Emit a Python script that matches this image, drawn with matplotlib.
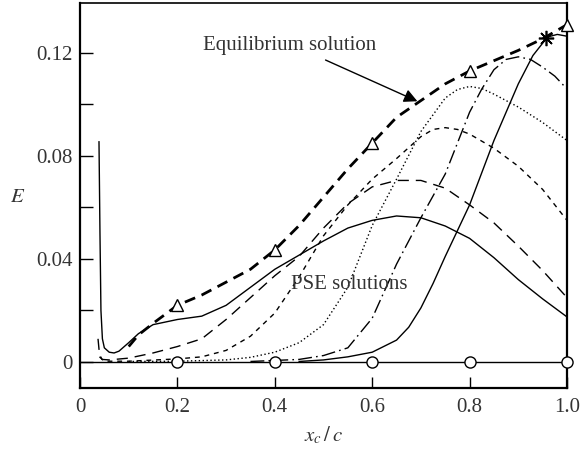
import numpy as np
import matplotlib
matplotlib.use("Agg")
import matplotlib.pyplot as plt
from matplotlib.ticker import MultipleLocator

plt.rcParams['font.family'] = ['Liberation Serif', 'DejaVu Serif']
plt.rcParams['mathtext.fontset'] = 'stix'
plt.rcParams['font.size'] = 15

# equilibrium solution (thick dashed)
eq_x = [0.10, 0.12, 0.15, 0.20, 0.25, 0.30, 0.35, 0.40, 0.45, 0.50, 0.55, 0.60,
        0.65, 0.70, 0.75, 0.80, 0.85, 0.90, 0.95, 1.00]
eq_y = [0.006, 0.0105, 0.015, 0.022, 0.026, 0.031, 0.036, 0.0435, 0.053, 0.064, 0.075, 0.085,
        0.095, 0.1015, 0.108, 0.113, 0.117, 0.121, 0.1255, 0.131]

# triangle / circle stations
sta_x = [0.2, 0.4, 0.6, 0.8, 1.0]
tri_y = [0.022, 0.0435, 0.085, 0.113, 0.131]
circ_y = [0, 0, 0, 0, 0]
star_x, star_y = [0.957], [0.126]

# PSE solutions
p1_x = [0.039, 0.041, 0.043, 0.046, 0.05, 0.06, 0.07, 0.08, 0.10, 0.12, 0.15, 0.20, 0.25, 0.30,
        0.35, 0.40, 0.45, 0.50, 0.55, 0.60, 0.65, 0.70, 0.75, 0.80, 0.85, 0.90, 0.95, 1.00]
p1_y = [0.0855, 0.05, 0.02, 0.009, 0.0055, 0.0038, 0.0035, 0.0042, 0.0075, 0.011, 0.0145, 0.0165,
        0.0178, 0.022, 0.029, 0.036, 0.0415, 0.047, 0.052, 0.055, 0.0567, 0.056, 0.0528, 0.048,
        0.0405, 0.032, 0.0245, 0.0175]

p2_x = [0.037, 0.04, 0.045, 0.06, 0.10, 0.15, 0.20, 0.25, 0.30, 0.35, 0.40, 0.45, 0.50, 0.55,
        0.60, 0.65, 0.70, 0.75, 0.80, 0.85, 0.90, 0.95, 1.00]
p2_y = [0.009, 0.003, 0.001, 0.0008, 0.0015, 0.0035, 0.006, 0.009, 0.0165, 0.025, 0.0335, 0.041,
        0.052, 0.0615, 0.068, 0.0705, 0.0705, 0.0675, 0.061, 0.054, 0.045, 0.0355, 0.025]

p3_x = [0.04, 0.05, 0.10, 0.20, 0.25, 0.30, 0.35, 0.40, 0.45, 0.50, 0.55, 0.60, 0.65, 0.70,
        0.725, 0.75, 0.775, 0.80, 0.85, 0.90, 0.95, 1.00]
p3_y = [0.002, 0.0003, 0.0003, 0.0012, 0.002, 0.0045, 0.01, 0.019, 0.033, 0.049, 0.061, 0.071,
        0.079, 0.0875, 0.0903, 0.091, 0.0903, 0.0885, 0.083, 0.076, 0.067, 0.055]

p4_x = [0.10, 0.20, 0.30, 0.35, 0.40, 0.45, 0.50, 0.55, 0.60, 0.65, 0.70, 0.75, 0.775, 0.80,
        0.825, 0.85, 0.90, 0.95, 1.00]
p4_y = [0.0002, 0.0003, 0.0008, 0.0018, 0.0038, 0.0075, 0.0145, 0.029, 0.053, 0.071, 0.0895,
        0.1025, 0.1058, 0.107, 0.1062, 0.104, 0.099, 0.093, 0.086]

p5_x = [0.35, 0.45, 0.50, 0.55, 0.60, 0.65, 0.70, 0.75, 0.80, 0.825, 0.85, 0.875, 0.90, 0.925,
        0.95, 0.975, 1.00]
p5_y = [0.0002, 0.001, 0.0025, 0.0055, 0.017, 0.038, 0.056, 0.073, 0.097, 0.106, 0.1135, 0.1175,
        0.1185, 0.1175, 0.1145, 0.111, 0.106]

p6_x = [0.45, 0.50, 0.55, 0.60, 0.65, 0.675, 0.70, 0.725, 0.75, 0.775, 0.80, 0.85, 0.90, 0.93,
        0.96, 0.98, 1.00]
p6_y = [0.0002, 0.0008, 0.002, 0.0038, 0.0085, 0.0135, 0.021, 0.0305, 0.041, 0.051, 0.061, 0.086,
        0.108, 0.119, 0.1262, 0.1272, 0.1265]

fig = plt.figure(figsize=(5.81, 4.5), dpi=100)
ax = fig.add_axes([80/581, 1-388/450, 487/581, 385/450])

k = 'black'
ax.axhline(0, color=k, lw=1.0)
ax.plot(p1_x, p1_y, color=k, lw=1.0)
ax.plot(p2_x, p2_y, color=k, lw=1.0, dashes=(8, 5))
ax.plot(p3_x, p3_y, color=k, lw=1.0, dashes=(3.5, 3.5))
ax.plot(p4_x, p4_y, color=k, lw=1.0, dashes=(1, 1.8))
ax.plot(p5_x, p5_y, color=k, lw=1.0, dashes=(10, 3, 1.2, 3))
ax.plot(p6_x, p6_y, color=k, lw=1.0)
ax.plot(eq_x, eq_y, color=k, lw=2.0, dashes=(4, 2.5))

ax.plot(sta_x, tri_y, ls='none', marker='^', ms=8, mfc='white', mec=k, mew=1.0, clip_on=False, zorder=5)
ax.plot(sta_x, circ_y, ls='none', marker='o', ms=8, mfc='white', mec=k, mew=1.0, clip_on=False, zorder=5)
ax.plot(star_x, star_y, ls='none', marker=(8, 2, 0), ms=11, mec=k, mew=1.2, zorder=6)

ax.annotate('', xy=(0.698, 0.1008), xytext=(0.499, 0.1177),
            arrowprops=dict(arrowstyle='-|>', color=k, lw=1.0, mutation_scale=20))
ax.text(0.43, 0.123, 'Equilibrium solution', ha='center', va='center', color='#333333')
ax.text(0.552, 0.030, 'PSE solutions', ha='center', va='center', color='#333333')

ax.set_xlim(0, 1.0)
ax.set_ylim(-0.0101, 0.1394)
ax.set_xticks([0, 0.2, 0.4, 0.6, 0.8, 1.0])
ax.set_xticklabels(['0', '0.2', '0.4', '0.6', '0.8', '1.0'])
ax.set_yticks([0, 0.04, 0.08, 0.12])
ax.set_yticklabels(['0', '0.04', '0.08', '0.12'])
ax.yaxis.set_minor_locator(MultipleLocator(0.02))
ax.tick_params(which='both', direction='in', top=False, right=False, width=1.0, colors=k,
               labelcolor='#333333')
ax.tick_params(which='both', axis='y', length=9, pad=5)
ax.tick_params(which='both', axis='x', length=8, pad=7)
for s in ax.spines.values():
    s.set_linewidth(1.6)
ax.spines['top'].set_linewidth(1.2)

ax.set_xlabel(r'$x_c\,/\,c$', labelpad=6, color='#333333')
ax.set_ylabel(r'$E$', rotation=0, color='#333333')
ax.yaxis.set_label_coords(-0.129, 0.47)

fig.savefig('out.png', dpi=100)
